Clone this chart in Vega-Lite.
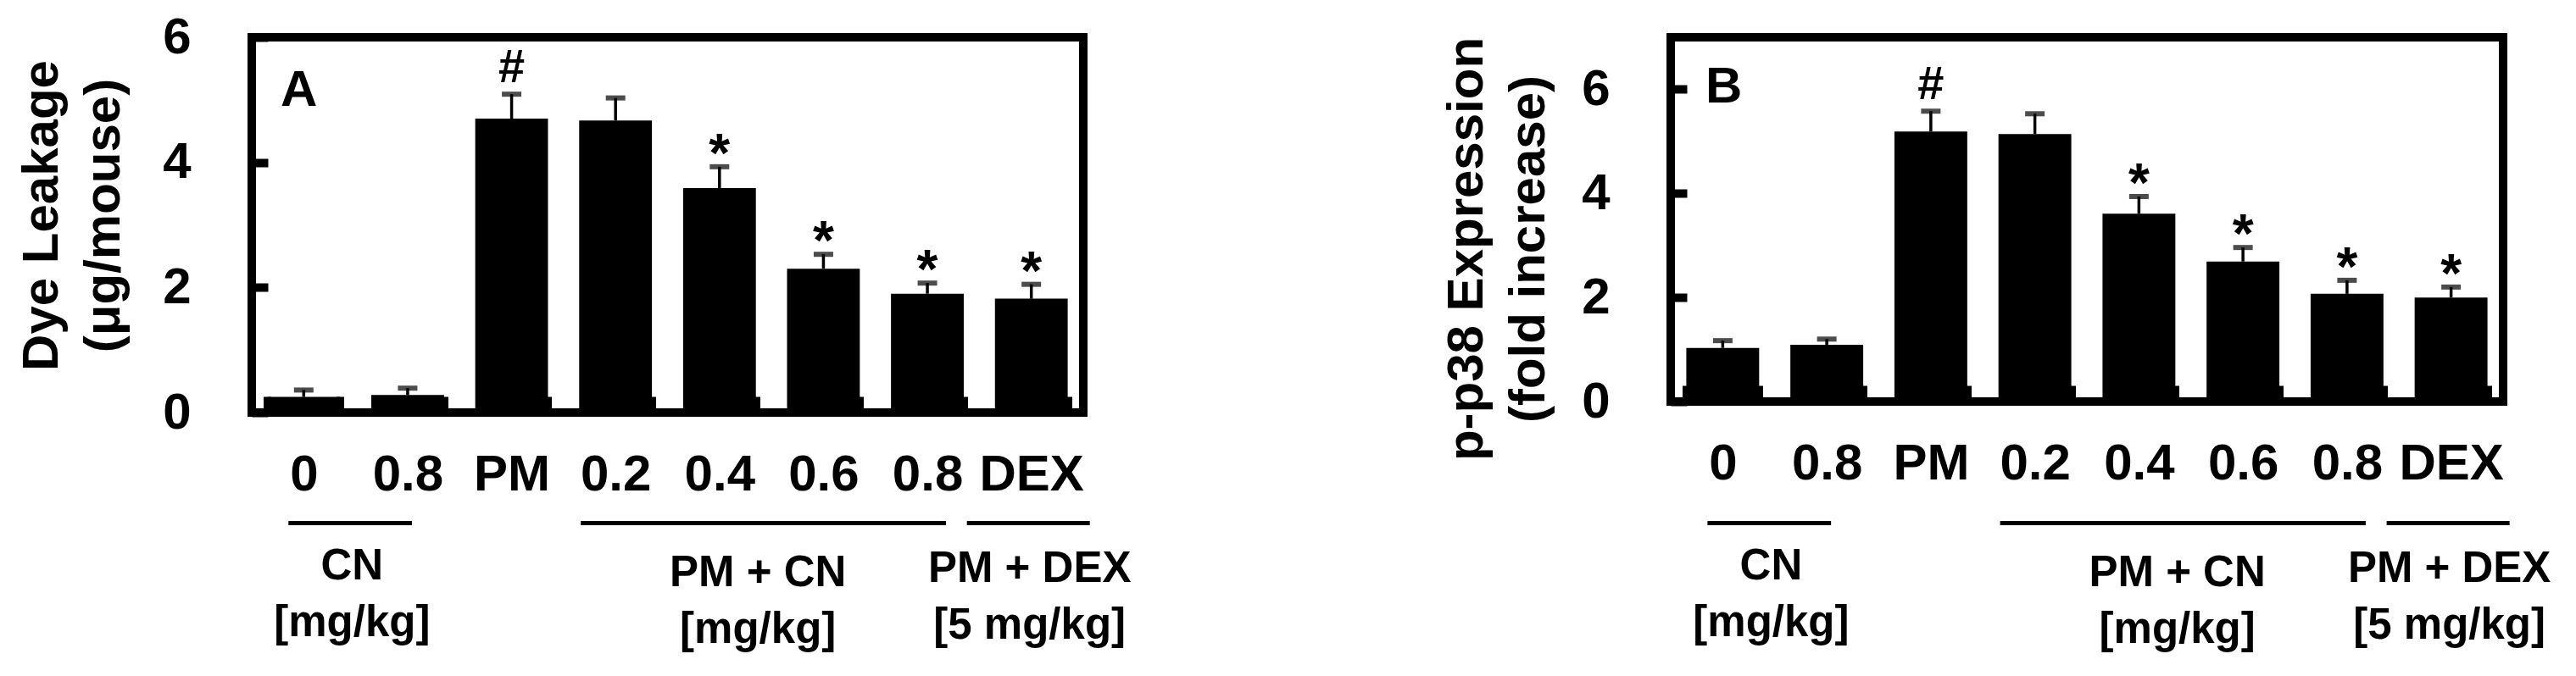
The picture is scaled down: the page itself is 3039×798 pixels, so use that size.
{
  "$schema": "https://vega.github.io/schema/vega-lite/v6.json",
  "autosize": {"type": "pad"},
  "padding": {"left": 14, "top": 9, "right": 0, "bottom": 0},
  "background": "white",
  "bounds": "flush",
  "spacing": 693,
  "datasets": {
    "dye": [
      {"bar": "CN|0", "mean": 0.25, "upper": 0.36, "sig": ""},
      {"bar": "CN|0.8", "mean": 0.28, "upper": 0.39, "sig": ""},
      {"bar": "PM|PM", "mean": 4.70, "upper": 5.09, "sig": "#"},
      {"bar": "PM+CN|0.2", "mean": 4.67, "upper": 5.03, "sig": ""},
      {"bar": "PM+CN|0.4", "mean": 3.59, "upper": 3.93, "sig": "*"},
      {"bar": "PM+CN|0.6", "mean": 2.30, "upper": 2.53, "sig": "*"},
      {"bar": "PM+CN|0.8", "mean": 1.90, "upper": 2.07, "sig": "*"},
      {"bar": "PM+DEX|DEX", "mean": 1.82, "upper": 2.05, "sig": "*"}
    ],
    "p38": [
      {"bar": "CN|0", "mean": 1.03, "upper": 1.17, "sig": ""},
      {"bar": "CN|0.8", "mean": 1.09, "upper": 1.20, "sig": ""},
      {"bar": "PM|PM", "mean": 5.19, "upper": 5.58, "sig": "#"},
      {"bar": "PM+CN|0.2", "mean": 5.14, "upper": 5.53, "sig": ""},
      {"bar": "PM+CN|0.4", "mean": 3.61, "upper": 3.94, "sig": "*"},
      {"bar": "PM+CN|0.6", "mean": 2.69, "upper": 2.96, "sig": "*"},
      {"bar": "PM+CN|0.8", "mean": 2.07, "upper": 2.33, "sig": "*"},
      {"bar": "PM+DEX|DEX", "mean": 2.00, "upper": 2.20, "sig": "*"}
    ],
    "groups": [
      {"group": "CN", "label": "CN\n[mg/kg]", "first": "CN|0", "last": "CN|0.8"},
      {"group": "PM + CN", "label": "PM + CN\n[mg/kg]", "first": "PM+CN|0.2", "last": "PM+CN|0.8"},
      {"group": "PM + DEX", "label": "PM + DEX\n[5 mg/kg]", "first": "PM+DEX|DEX", "last": "PM+DEX|DEX"}
    ]
  },
  "hconcat": [
    {
      "width": 981,
      "height": 443,
      "title": {"text": "A", "anchor": "start", "frame": "group", "orient": "top", "fontSize": 60, "fontWeight": "bold", "font": "Liberation Sans", "color": "black", "baseline": "alphabetic", "offset": -171, "dx": 34},
      "layer": [
        {
          "data": {"name": "dye"},
          "mark": {"type": "bar", "color": "black"},
          "encoding": {
            "x": {"field": "bar", "type": "nominal",
              "scale": {"domain": ["CN|0", "CN|0.8", "PM|PM", "PM+CN|0.2", "PM+CN|0.4", "PM+CN|0.6", "PM+CN|0.8", "PM+DEX|DEX"], "paddingInner": 0.3, "paddingOuter": 0.15},
              "axis": {"title": null, "domain": false, "grid": false, "tickBand": "extent", "tickSize": -19, "tickWidth": 9, "tickColor": "black", "labelPadding": 63, "labelAngle": 0, "labelFont": "Liberation Sans", "labelFontSize": 60, "labelFontWeight": "bold", "labelColor": "black", "labelExpr": "split(datum.label, '|')[1]"}},
            "y": {"field": "mean", "type": "quantitative",
              "scale": {"domain": [0, 6], "nice": false},
              "axis": {"values": [0, 2, 4, 6], "format": "d", "domain": false, "grid": false, "tickSize": -19, "tickWidth": 10, "tickColor": "black", "labelPadding": 91, "labelFont": "Liberation Sans", "labelFontSize": 60, "labelFontWeight": "bold", "labelColor": "black",
                "title": ["Dye Leakage", "(μg/mouse)"], "titleFont": "Liberation Sans", "titleFontSize": 60, "titleFontWeight": "bold", "titleColor": "black", "titleLineHeight": 73, "titleAngle": -90, "titleAlign": "center", "titleBaseline": "alphabetic", "titleX": -230, "titleY": 210}}
          }
        },
        {
          "data": {"name": "dye"},
          "mark": {"type": "rule", "color": "black", "strokeWidth": 3.5},
          "encoding": {"x": {"field": "bar", "type": "nominal"}, "y": {"field": "mean", "type": "quantitative"}, "y2": {"field": "upper"}}
        },
        {
          "data": {"name": "dye"},
          "mark": {"type": "tick", "color": "black", "size": 23, "thickness": 6},
          "encoding": {"x": {"field": "bar", "type": "nominal"}, "y": {"field": "upper", "type": "quantitative"}}
        },
        {
          "data": {"name": "dye"},
          "transform": [{"filter": "datum.sig === '*'"}],
          "mark": {"type": "text", "color": "black", "font": "Liberation Sans", "fontWeight": "bold", "fontSize": 64, "baseline": "top", "align": "center", "dy": -45},
          "encoding": {"x": {"field": "bar", "type": "nominal"}, "y": {"field": "upper", "type": "quantitative"}, "text": {"field": "sig"}}
        },
        {
          "data": {"name": "dye"},
          "transform": [{"filter": "datum.sig === '#'"}],
          "mark": {"type": "text", "color": "black", "font": "Liberation Sans", "fontWeight": "bold", "fontSize": 56, "baseline": "top", "align": "center", "dy": -58},
          "encoding": {"x": {"field": "bar", "type": "nominal"}, "y": {"field": "upper", "type": "quantitative"}, "text": {"field": "sig"}}
        },
        {
          "data": {"name": "groups"},
          "transform": [{"filter": "datum.group === 'CN'"}],
          "layer": [
            {"mark": {"type": "rule", "color": "black", "strokeWidth": 5, "xOffset": -18, "x2Offset": 5},
             "encoding": {"x": {"field": "first", "type": "nominal"}, "x2": {"field": "last"}, "y": {"datum": -1.768}}},
            {"mark": {"type": "text", "color": "black", "font": "Liberation Sans", "fontWeight": "bold", "fontSize": 51, "lineBreak": "\n", "lineHeight": 67.5, "baseline": "top", "align": "center", "xOffset": 57},
             "encoding": {"x": {"field": "first", "type": "nominal"}, "y": {"datum": -2.122}, "text": {"field": "label"}}}
          ]
        },
        {
          "data": {"name": "groups"},
          "transform": [{"filter": "datum.group === 'PM + CN'"}],
          "layer": [
            {"mark": {"type": "rule", "color": "black", "strokeWidth": 5, "xOffset": -41, "x2Offset": 22},
             "encoding": {"x": {"field": "first", "type": "nominal"}, "x2": {"field": "last"}, "y": {"datum": -1.768}}},
            {"mark": {"type": "text", "color": "black", "font": "Liberation Sans", "fontWeight": "bold", "fontSize": 51, "lineBreak": "\n", "lineHeight": 67.5, "baseline": "top", "align": "center", "xOffset": 168},
             "encoding": {"x": {"field": "first", "type": "nominal"}, "y": {"datum": -2.231}, "text": {"field": "label"}}}
          ]
        },
        {
          "data": {"name": "groups"},
          "transform": [{"filter": "datum.group === 'PM + DEX'"}],
          "layer": [
            {"mark": {"type": "rule", "color": "black", "strokeWidth": 5, "xOffset": -76, "x2Offset": 69},
             "encoding": {"x": {"field": "first", "type": "nominal"}, "x2": {"field": "last"}, "y": {"datum": -1.768}}},
            {"mark": {"type": "text", "color": "black", "font": "Liberation Sans", "fontWeight": "bold", "fontSize": 51, "lineBreak": "\n", "lineHeight": 67.5, "baseline": "top", "align": "center", "xOffset": -2},
             "encoding": {"x": {"field": "first", "type": "nominal"}, "y": {"datum": -2.164}, "text": {"field": "label"}}}
          ]
        }
      ]
    },
    {
      "width": 982,
      "height": 430,
      "title": {"text": "B", "anchor": "start", "frame": "group", "orient": "top", "fontSize": 60, "fontWeight": "bold", "font": "Liberation Sans", "color": "black", "baseline": "alphabetic", "offset": -138, "dx": 41},
      "layer": [
        {
          "data": {"name": "p38"},
          "mark": {"type": "bar", "color": "black"},
          "encoding": {
            "x": {"field": "bar", "type": "nominal",
              "scale": {"domain": ["CN|0", "CN|0.8", "PM|PM", "PM+CN|0.2", "PM+CN|0.4", "PM+CN|0.6", "PM+CN|0.8", "PM+DEX|DEX"], "paddingInner": 0.3, "paddingOuter": 0.15},
              "axis": {"title": null, "domain": false, "grid": false, "tickBand": "extent", "tickSize": -19, "tickWidth": 9, "tickColor": "black", "labelPadding": 63, "labelAngle": 0, "labelFont": "Liberation Sans", "labelFontSize": 60, "labelFontWeight": "bold", "labelColor": "black", "labelExpr": "split(datum.label, '|')[1]"}},
            "y": {"field": "mean", "type": "quantitative",
              "scale": {"domain": [0, 7], "nice": false},
              "axis": {"values": [0, 2, 4, 6], "format": "d", "domain": false, "grid": false, "tickSize": -19, "tickWidth": 10, "tickColor": "black", "labelPadding": 91, "labelFont": "Liberation Sans", "labelFontSize": 60, "labelFontWeight": "bold", "labelColor": "black",
                "title": ["p-p38 Expression", "(fold increase)"], "titleFont": "Liberation Sans", "titleFontSize": 60, "titleFontWeight": "bold", "titleColor": "black", "titleLineHeight": 73, "titleAngle": -90, "titleAlign": "center", "titleBaseline": "alphabetic", "titleX": -223, "titleY": 249.5}}
          }
        },
        {
          "data": {"name": "p38"},
          "mark": {"type": "rule", "color": "black", "strokeWidth": 3.5},
          "encoding": {"x": {"field": "bar", "type": "nominal"}, "y": {"field": "mean", "type": "quantitative"}, "y2": {"field": "upper"}}
        },
        {
          "data": {"name": "p38"},
          "mark": {"type": "tick", "color": "black", "size": 23, "thickness": 6},
          "encoding": {"x": {"field": "bar", "type": "nominal"}, "y": {"field": "upper", "type": "quantitative"}}
        },
        {
          "data": {"name": "p38"},
          "transform": [{"filter": "datum.sig === '*'"}],
          "mark": {"type": "text", "color": "black", "font": "Liberation Sans", "fontWeight": "bold", "fontSize": 64, "baseline": "top", "align": "center", "dy": -45},
          "encoding": {"x": {"field": "bar", "type": "nominal"}, "y": {"field": "upper", "type": "quantitative"}, "text": {"field": "sig"}}
        },
        {
          "data": {"name": "p38"},
          "transform": [{"filter": "datum.sig === '#'"}],
          "mark": {"type": "text", "color": "black", "font": "Liberation Sans", "fontWeight": "bold", "fontSize": 56, "baseline": "top", "align": "center", "dy": -58},
          "encoding": {"x": {"field": "bar", "type": "nominal"}, "y": {"field": "upper", "type": "quantitative"}, "text": {"field": "sig"}}
        },
        {
          "data": {"name": "groups"},
          "transform": [{"filter": "datum.group === 'CN'"}],
          "layer": [
            {"mark": {"type": "rule", "color": "black", "strokeWidth": 5, "xOffset": -18, "x2Offset": 5},
             "encoding": {"x": {"field": "first", "type": "nominal"}, "x2": {"field": "last"}, "y": {"datum": -2.336}}},
            {"mark": {"type": "text", "color": "black", "font": "Liberation Sans", "fontWeight": "bold", "fontSize": 51, "lineBreak": "\n", "lineHeight": 67.5, "baseline": "top", "align": "center", "xOffset": 57},
             "encoding": {"x": {"field": "first", "type": "nominal"}, "y": {"datum": -2.763}, "text": {"field": "label"}}}
          ]
        },
        {
          "data": {"name": "groups"},
          "transform": [{"filter": "datum.group === 'PM + CN'"}],
          "layer": [
            {"mark": {"type": "rule", "color": "black", "strokeWidth": 5, "xOffset": -41, "x2Offset": 22},
             "encoding": {"x": {"field": "first", "type": "nominal"}, "x2": {"field": "last"}, "y": {"datum": -2.336}}},
            {"mark": {"type": "text", "color": "black", "font": "Liberation Sans", "fontWeight": "bold", "fontSize": 51, "lineBreak": "\n", "lineHeight": 67.5, "baseline": "top", "align": "center", "xOffset": 168},
             "encoding": {"x": {"field": "first", "type": "nominal"}, "y": {"datum": -2.893}, "text": {"field": "label"}}}
          ]
        },
        {
          "data": {"name": "groups"},
          "transform": [{"filter": "datum.group === 'PM + DEX'"}],
          "layer": [
            {"mark": {"type": "rule", "color": "black", "strokeWidth": 5, "xOffset": -76, "x2Offset": 69},
             "encoding": {"x": {"field": "first", "type": "nominal"}, "x2": {"field": "last"}, "y": {"datum": -2.336}}},
            {"mark": {"type": "text", "color": "black", "font": "Liberation Sans", "fontWeight": "bold", "fontSize": 51, "lineBreak": "\n", "lineHeight": 67.5, "baseline": "top", "align": "center", "xOffset": -2},
             "encoding": {"x": {"field": "first", "type": "nominal"}, "y": {"datum": -2.812}, "text": {"field": "label"}}}
          ]
        }
      ]
    }
  ],
  "config": {
    "font": "Liberation Sans",
    "view": {"stroke": "black", "strokeWidth": 10}
  }
}
